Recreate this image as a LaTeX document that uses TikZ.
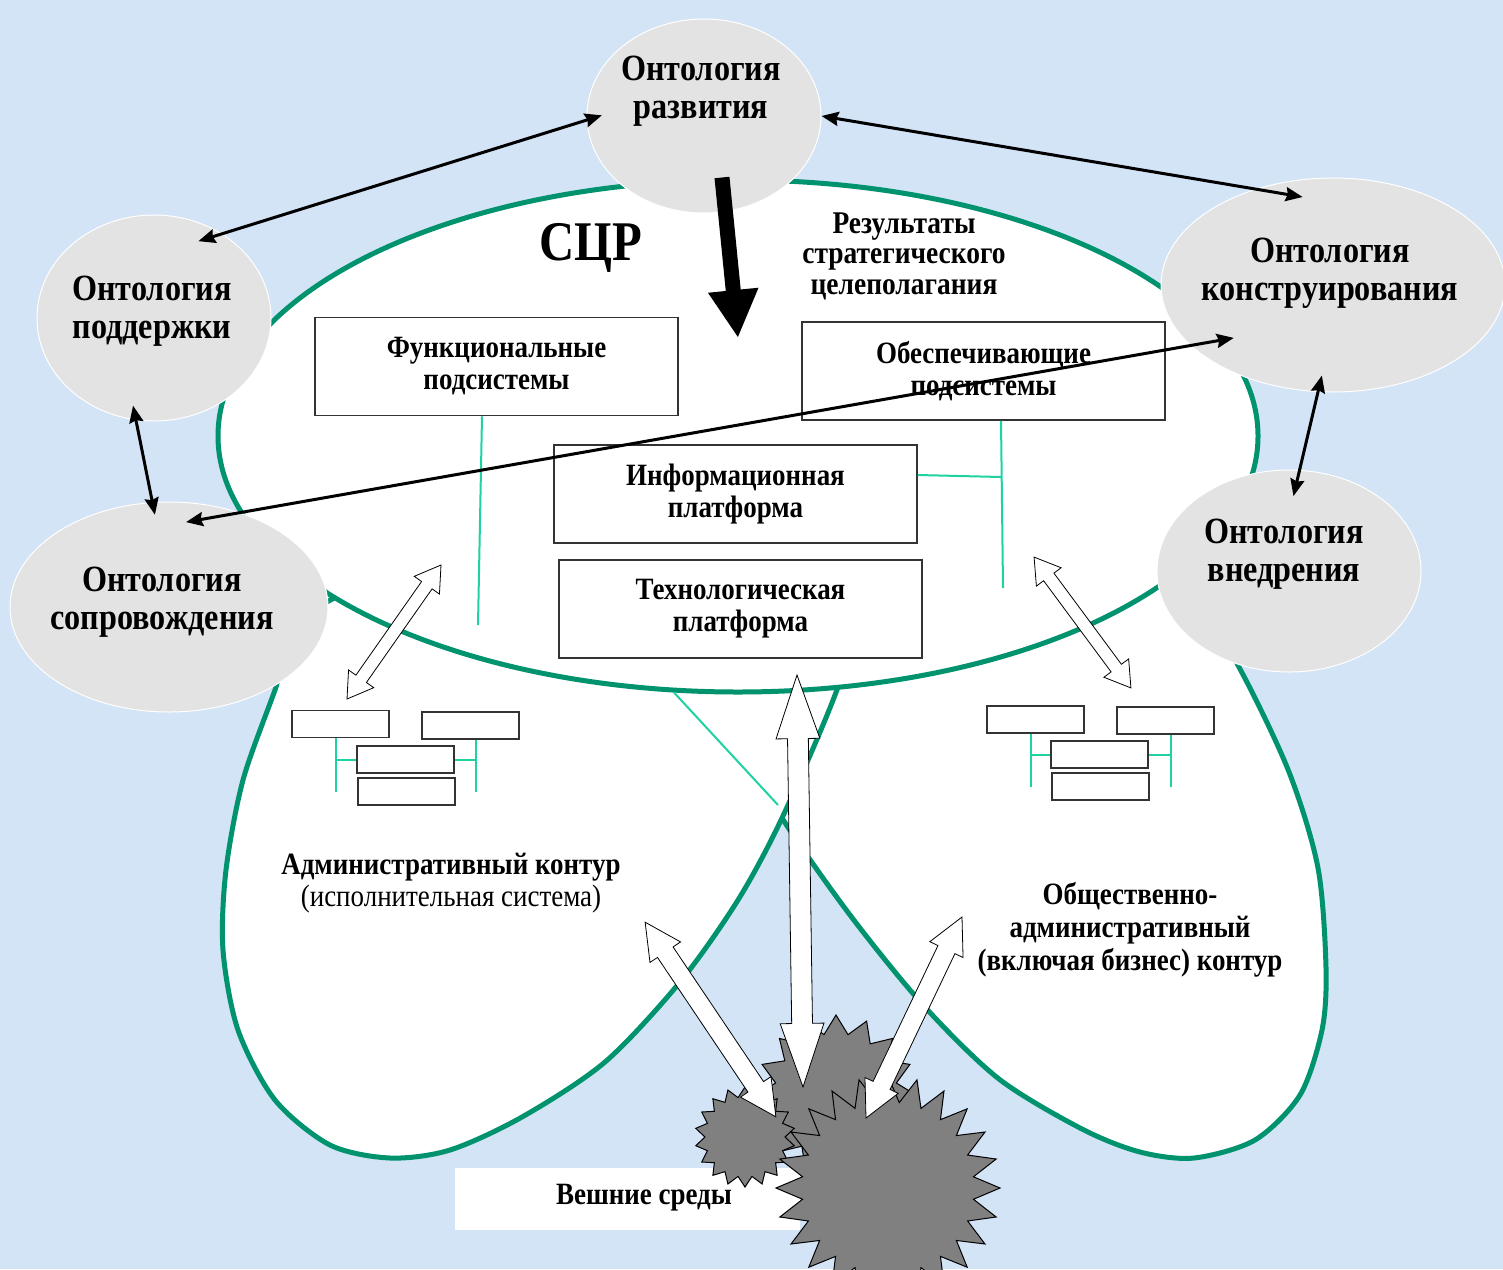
\documentclass[tikz,border=0pt]{standalone}
\usepackage{fontspec}
\setmainfont{Liberation Serif}[FakeStretch=0.87]
\usetikzlibrary{shapes.geometric,shapes.arrows,arrows.meta,calc}

\definecolor{bgblue}{HTML}{D2E4F6}
\definecolor{ontgray}{HTML}{E3E3E3}
\definecolor{scrgreen}{HTML}{00936E}
\definecolor{tiegreen}{HTML}{1ED2A2}
\definecolor{burstgray}{HTML}{808080}

\tikzset{
  ont/.style={ellipse,draw=white,line width=0.5pt,fill=ontgray,inner sep=0pt},
  onttext/.style={align=center,font=\fontsize{18.5}{19}\selectfont\bfseries},
  contour/.style={draw=scrgreen,line width=2.5pt,fill=white},
  box/.style={draw=black!80,line width=0.75pt,fill=white,minimum width=181.5pt,minimum height=49pt,
    align=center,font=\fontsize{15.5}{16}\selectfont\bfseries},
  smallbox/.style={draw=black!80,line width=0.9pt,fill=white,minimum width=48.5pt,minimum height=13.5pt,inner sep=0pt},
  tie/.style={draw=tiegreen,line width=1pt},
  link/.style={draw=black,line width=1.5pt,>={Stealth[length=8.5pt,width=7pt,inset=1pt]},<->},
  bigarrow/.style={draw=black,line width=7.5pt,-{Triangle[length=24pt,width=23.5pt]}},
  fatarrow/.style={double arrow,draw=black,line width=0.4pt,fill=white,inner xsep=0pt,inner ysep=3pt,
    minimum width=0pt,double arrow head extend=4.5pt,double arrow tip angle=64},
  widearrow/.style={fatarrow,inner ysep=4.5pt,double arrow head extend=4.5pt,double arrow tip angle=54},
  longarrow/.style={fatarrow,inner ysep=5pt,double arrow head extend=5.75pt,double arrow tip angle=38},
  burststar/.style={star,draw=black,line width=0.5pt,fill=burstgray,inner sep=0pt}
}

% fat white double arrow between two named points
\newcommand{\fatlink}[4][]{%
  \path let \p1=($(#4)-(#3)$), \n1={veclen(\x1,\y1)}, \n2={atan2(\y1,\x1)} in
    node[fatarrow,#1,minimum height=\n1,rotate=\n2] (#2) at ($(#3)!0.5!(#4)$) {};
}

\begin{document}
\begin{tikzpicture}[x=0.5pt,y=-0.5pt]
  \fill[bgblue] (0,0) rectangle (1503,1269);
  \useasboundingbox (0,0) rectangle (1503,1269);

  % the two lower contours
  \draw[contour] plot[smooth cycle] coordinates {(782,818) (850,915) (924,1006) (999,1079) (1082,1129)
    (1140,1152) (1194,1158) (1255,1140) (1300,1095) (1322,1030) (1326,968) (1318,868) (1289,772)
    (1240,669) (1190,590) (1050,520) (900,540) (780,640) (740,740)};
  \draw[contour] plot[smooth cycle] coordinates {(275,690) (243,780) (226,870) (223,950) (238,1030)
    (275,1100) (330,1145) (390,1158) (450,1150) (522,1117) (605,1062) (680,982) (738,900) (782,818)
    (835,695) (860,610) (840,530) (740,500) (580,520) (420,560) (300,620)};

  % СЦР
  \node[contour,ellipse,minimum width=520pt,minimum height=256pt] (scr) at (738,436) {};
  \node[font=\fontsize{28}{28}\selectfont\bfseries] (scrlbl) at (591,248) {СЦР};
  \node[align=center,font=\fontsize{15.8}{15.2}\selectfont\bfseries] (goals) at (904,256)
    {Результаты\\стратегического\\целеполагания};

  \node[box] (funk) at (496.5,366.5) {Функциональные\\подсистемы};
  \node[box] (obesp) at (983.5,371) {Обеспечивающие\\подсистемы};
  \node[box] (inf) at (735.5,494) {Информационная\\платформа};
  \node[box] (tech) at (740.5,609) {Технологическая\\платформа};

  \coordinate (funkend) at (478,625);
  \coordinate (obespend) at (1003,588);
  \coordinate (inftie) at (1001,477);
  \coordinate (cross) at (778,805);
  \draw[tie] ([xshift=-7.25pt]funk.south) -- (funkend);
  \draw[tie] ([xshift=8.75pt]obesp.south) -- (obespend);
  \draw[tie] ([yshift=9.5pt]inf.east) -- (inftie);
  \draw[tie] (scr.256) -- (cross);

  % executive contour
  \node[smallbox] (sbl1) at (340.5,724) {};
  \node[smallbox] (sbl2) at (470.5,725.5) {};
  \node[smallbox] (sbl3) at (405.5,759.5) {};
  \node[smallbox] (sbl4) at (406.5,791.5) {};
  \draw[tie] ([xshift=-2.25pt]sbl1.south) -- ([xshift=-2.25pt]sbl1.south |- sbl4.center);
  \draw[tie] (sbl3.west) -- ([xshift=-2.25pt]sbl1.south |- sbl3.west);
  \draw[tie] ([xshift=2.75pt]sbl2.south) -- ([xshift=2.75pt]sbl2.south |- sbl4.center);
  \draw[tie] (sbl3.east) -- ([xshift=2.75pt]sbl2.south |- sbl3.east);
  \node[align=center,font=\fontsize{15.5}{16}\selectfont] (admin) at (451,883)
    {\textbf{Административный контур}\\(исполнительная система)};

  % public contour
  \node[smallbox] (sbr1) at (1035.5,719.5) {};
  \node[smallbox] (sbr2) at (1165.5,720.5) {};
  \node[smallbox] (sbr3) at (1099.5,754.5) {};
  \node[smallbox] (sbr4) at (1100.5,786.5) {};
  \draw[tie] ([xshift=-2.25pt]sbr1.south) -- ([xshift=-2.25pt]sbr1.south |- sbr4.center);
  \draw[tie] (sbr3.west) -- ([xshift=-2.25pt]sbr1.south |- sbr3.west);
  \draw[tie] ([xshift=2.75pt]sbr2.south) -- ([xshift=2.75pt]sbr2.south |- sbr4.center);
  \draw[tie] (sbr3.east) -- ([xshift=2.75pt]sbr2.south |- sbr3.east);
  \node[align=center,font=\fontsize{15.5}{16.5}\selectfont\bfseries] (pubadmin) at (1130,930)
    {Общественно-\\административный\\(включая бизнес) контур};

  % ontologies
  \node[ont,minimum width=117pt,minimum height=97pt] (razv) at (704,116) {};
  \node[ont,minimum width=117pt,minimum height=103pt] (podd) at (154,318) {};
  \node[ont,minimum width=159pt,minimum height=105pt] (sopr) at (169,607) {};
  \node[ont,minimum width=172pt,minimum height=107pt] (konstr) at (1333,285) {};
  \node[ont,minimum width=132pt,minimum height=101pt] (vnedr) at (1289,571) {};
  \node[onttext] (razvlbl) at (701,91) {Онтология\\развития};
  \node[onttext] (poddlbl) at (152,311) {Онтология\\поддержки};
  \node[onttext] (soprlbl) at (162,602) {Онтология\\сопровождения};
  \node[onttext] (konstrlbl) at (1330,273) {Онтология\\конструирования};
  \node[onttext] (vnedrlbl) at (1284,554) {Онтология\\внедрения};

  \draw[link,shorten <=-8pt,shorten >=-12.5pt] (razv.182) -- (podd.51);
  \draw[link,shorten >=-24pt] (razv.0) -- (konstr.129);
  \draw[link,shorten <=-7.5pt,shorten >=-6.5pt] (podd.260) -- (sopr.99);
  \draw[link,shorten <=-8.5pt,shorten >=-13.5pt] (konstr.262) -- (vnedr.84);
  \draw[link,shorten <=-27.5pt,shorten >=-22pt] (sopr.53) -- (konstr.203);

  \coordinate (sczgoal) at (738,338);
  \draw[bigarrow] ([shift={(18,-36)}]razv.south) -- (sczgoal);

  % external environment
  \node[fill=white,minimum width=172.5pt,minimum height=31pt] (envbox) at (627.5,1199) {};
  \node[font=\fontsize{15.5}{16}\selectfont\bfseries] (envlbl) at (644,1198) {Вешние среды};
  \node[burststar,star points=16,star point ratio=1.3,minimum size=80pt] (burst2) at (836,1095) {};
  \node[burststar,star points=18,star point ratio=1.25,minimum size=50pt] (burst1) at (745,1137) {};
  \node[burststar,star points=24,star point ratio=1.3,minimum size=112pt] (burst3) at (888,1188) {};

  \coordinate (fl1) at (441,565);  \coordinate (fl2) at (347,699);
  \coordinate (fr1) at (1034,557); \coordinate (fr2) at (1131,688);
  \coordinate (fc1) at (797,675);  \coordinate (fc2) at (803,1087);
  \coordinate (fb1) at (645,922);  \coordinate (fb2) at (776,1117);
  \coordinate (fd1) at (962,917);  \coordinate (fd2) at (866,1118);
  \fatlink{arrl}{fl1}{fl2}
  \fatlink{arrr}{fr1}{fr2}
  \fatlink[longarrow]{arrc}{fc1}{fc2}
  \fatlink[widearrow]{arrb}{fb1}{fb2}
  \fatlink[widearrow]{arrd}{fd1}{fd2}
\end{tikzpicture}
\end{document}
